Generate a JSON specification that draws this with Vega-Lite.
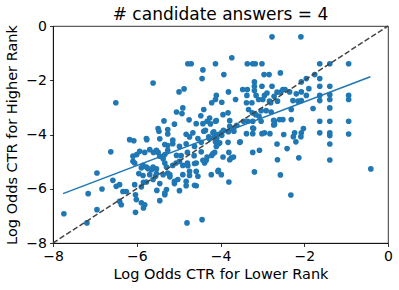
{
  "$schema": "https://vega.github.io/schema/vega-lite/v6.json",
  "width": 335,
  "height": 217,
  "autosize": {"type": "none"},
  "padding": {"left": 53, "top": 26, "right": 11, "bottom": 47},
  "background": "white",
  "view": {"stroke": "black", "strokeWidth": 0.8},
  "title": {"text": "# candidate answers = 4", "fontSize": 17, "font": "DejaVu Sans", "fontWeight": "normal", "color": "black", "offset": -5, "anchor": "middle", "frame": "group"},
  "config": {
    "axis": {"grid": false, "domainColor": "black", "domainWidth": 0.8, "tickColor": "black", "tickWidth": 0.8, "tickSize": 3.5, "labelFont": "DejaVu Sans", "labelFontSize": 14, "labelColor": "black", "labelPadding": 3, "titleFont": "DejaVu Sans", "titleFontSize": 14.5, "titleFontWeight": "normal", "titleColor": "black", "labelFlush": false, "labelOverlap": false}
  },
  "datasets": {
    "pts": [
      {"x":-7.74,"y":-6.92},{"x":-7.19,"y":-7.26},{"x":-7.16,"y":-6.18},{"x":-6.95,"y":-5.42},{"x":-6.95,"y":-6.77},{"x":-6.83,"y":-6.01},{"x":-6.62,"y":-4.64},{"x":-6.57,"y":-5.69},{"x":-6.49,"y":-5.91},{"x":-6.41,"y":-5.85},{"x":-6.50,"y":-2.83},{"x":-6.41,"y":-6.46},{"x":-6.37,"y":-6.59},{"x":-6.33,"y":-6.10},{"x":-6.25,"y":-6.10},{"x":-6.17,"y":-4.19},{"x":-6.07,"y":-4.23},{"x":-6.09,"y":-4.80},{"x":-6.00,"y":-4.74},{"x":-5.93,"y":-4.62},{"x":-5.81,"y":-4.66},{"x":-5.69,"y":-4.56},{"x":-5.60,"y":-4.66},{"x":-5.49,"y":-4.66},{"x":-6.09,"y":-4.99},{"x":-6.05,"y":-5.05},{"x":-5.89,"y":-5.23},{"x":-5.77,"y":-5.20},{"x":-5.65,"y":-5.30},{"x":-5.53,"y":-5.27},{"x":-5.95,"y":-5.44},{"x":-5.69,"y":-5.48},{"x":-5.55,"y":-5.54},{"x":-5.61,"y":-5.66},{"x":-5.84,"y":-5.76},{"x":-6.05,"y":-5.85},{"x":-6.03,"y":-6.22},{"x":-6.01,"y":-6.40},{"x":-5.89,"y":-6.52},{"x":-5.81,"y":-6.59},{"x":-5.84,"y":-6.71},{"x":-6.03,"y":-6.87},{"x":-5.45,"y":-6.44},{"x":-5.52,"y":-6.06},{"x":-5.76,"y":-4.19},{"x":-5.61,"y":-2.10},{"x":-5.47,"y":-3.88},{"x":-5.35,"y":-3.50},{"x":-5.26,"y":-3.82},{"x":-5.45,"y":-4.16},{"x":-5.33,"y":-4.37},{"x":-5.26,"y":-4.41},{"x":-5.45,"y":-4.80},{"x":-5.33,"y":-4.74},{"x":-5.33,"y":-5.05},{"x":-5.26,"y":-5.42},{"x":-5.37,"y":-5.48},{"x":-5.29,"y":-6.03},{"x":-5.33,"y":-6.16},{"x":-5.77,"y":-4.15},{"x":-5.85,"y":-5.14},{"x":-5.73,"y":-5.26},{"x":-5.89,"y":-5.93},{"x":-5.77,"y":-5.75},{"x":-5.45,"y":-5.81},{"x":-5.85,"y":-5.51},{"x":-5.53,"y":-5.44},{"x":-5.49,"y":-3.78},{"x":-5.53,"y":-4.58},{"x":-5.37,"y":-4.89},{"x":-5.61,"y":-5.20},{"x":-5.29,"y":-5.20},
      {"x":-5.26,"y":-3.98},{"x":-5.14,"y":-4.21},{"x":-5.10,"y":-3.62},{"x":-5.05,"y":-3.17},{"x":-4.92,"y":-3.23},{"x":-4.90,"y":-3.02},{"x":-4.99,"y":-2.43},{"x":-4.87,"y":-2.32},{"x":-4.78,"y":-1.39},{"x":-4.70,"y":-1.39},{"x":-4.44,"y":-1.94},{"x":-4.42,"y":-1.62},{"x":-4.75,"y":-3.46},{"x":-4.47,"y":-3.31},{"x":-4.58,"y":-3.60},{"x":-4.42,"y":-3.60},{"x":-4.26,"y":-3.39},{"x":-4.24,"y":-3.61},{"x":-4.10,"y":-3.49},{"x":-3.78,"y":-3.49},{"x":-3.78,"y":-3.70},{"x":-3.94,"y":-3.27},{"x":-3.82,"y":-3.20},{"x":-4.40,"y":-3.88},{"x":-4.66,"y":-3.94},{"x":-4.18,"y":-3.94},{"x":-3.98,"y":-3.94},{"x":-4.82,"y":-3.99},{"x":-4.74,"y":-4.09},{"x":-4.54,"y":-4.15},{"x":-4.10,"y":-2.56},{"x":-4.12,"y":-2.71},{"x":-4.21,"y":-2.83},{"x":-3.97,"y":-2.81},{"x":-3.92,"y":-1.79},{"x":-3.73,"y":-1.17},{"x":-4.12,"y":-1.39},{"x":-3.64,"y":-2.71},{"x":-3.47,"y":-2.34},{"x":-3.36,"y":-1.39},{"x":-3.23,"y":-1.39},{"x":-3.17,"y":-1.39},{"x":-3.01,"y":-1.39},{"x":-2.96,"y":-1.79},{"x":-2.84,"y":-1.79},{"x":-3.19,"y":-2.06},{"x":-3.19,"y":-2.22},{"x":-3.01,"y":-2.22},{"x":-2.77,"y":-2.22},{"x":-3.19,"y":-2.38},{"x":-2.51,"y":-2.34},{"x":-3.37,"y":-2.56},{"x":-3.15,"y":-2.56},{"x":-2.95,"y":-2.56},{"x":-3.38,"y":-2.83},{"x":-3.25,"y":-2.83},{"x":-2.99,"y":-2.71},{"x":-2.83,"y":-2.77},{"x":-3.03,"y":-3.12},{"x":-2.91,"y":-3.12},{"x":-2.79,"y":-3.17},{"x":-3.35,"y":-3.51},{"x":-3.23,"y":-3.51},{"x":-3.03,"y":-3.51},{"x":-2.71,"y":-3.51},{"x":-2.71,"y":-3.63},{"x":-2.51,"y":-3.45},{"x":-3.23,"y":-3.76},{"x":-2.95,"y":-3.94},{"x":-3.38,"y":-3.97},{"x":-3.23,"y":-3.97},{"x":-2.82,"y":-3.97},{"x":-3.68,"y":-3.88},{"x":-3.82,"y":-3.88},{"x":-4.06,"y":-4.00},{"x":-3.54,"y":-4.29},{"x":-3.82,"y":-4.29},{"x":-4.02,"y":-4.31},{"x":-4.10,"y":-4.44},{"x":-4.14,"y":-4.09},{"x":-4.26,"y":-4.16},{"x":-4.46,"y":-4.29},{"x":-4.62,"y":-4.44},{"x":-4.82,"y":-4.34},{"x":-4.98,"y":-4.44},{"x":-5.14,"y":-4.34},{"x":-5.26,"y":-4.58},{"x":-4.79,"y":-4.66},{"x":-4.63,"y":-4.78},{"x":-4.94,"y":-4.78},{"x":-5.06,"y":-5.05},{"x":-4.98,"y":-4.99},{"x":-4.79,"y":-5.05},{"x":-4.78,"y":-5.15},{"x":-4.58,"y":-5.05},{"x":-4.38,"y":-5.05},{"x":-4.34,"y":-4.95},{"x":-4.18,"y":-4.70},{"x":-4.14,"y":-4.66},{"x":-3.94,"y":-4.83},{"x":-3.80,"y":-4.66},{"x":-3.74,"y":-4.86},{"x":-3.78,"y":-4.93},{"x":-3.23,"y":-4.66},{"x":-3.07,"y":-4.58},{"x":-2.64,"y":-4.93},{"x":-5.21,"y":-5.48},{"x":-4.74,"y":-5.36},{"x":-4.58,"y":-5.36},{"x":-4.54,"y":-5.54},{"x":-4.90,"y":-5.48},{"x":-4.22,"y":-5.48},{"x":-4.06,"y":-5.36},{"x":-3.98,"y":-5.48},{"x":-3.19,"y":-5.38},{"x":-5.10,"y":-5.73},{"x":-5.02,"y":-5.66},{"x":-4.82,"y":-5.73},{"x":-4.82,"y":-5.89},{"x":-4.58,"y":-5.89},{"x":-3.80,"y":-5.75},{"x":-4.98,"y":-6.07},{"x":-5.33,"y":-6.22},{"x":-4.80,"y":-7.26},{"x":-4.44,"y":-7.14},{"x":-5.05,"y":-4.77},{"x":-4.46,"y":-4.64},{"x":-4.42,"y":-4.95},{"x":-5.14,"y":-5.14},{"x":-4.90,"y":-5.14},{"x":-4.62,"y":-5.07},{"x":-5.21,"y":-5.56},{"x":-4.74,"y":-5.51},{"x":-4.62,"y":-5.87},{"x":-5.10,"y":-5.81},
      {"x":-4.36,"y":-3.85},{"x":-4.16,"y":-3.90},{"x":-4.28,"y":-4.09},{"x":-4.09,"y":-4.15},{"x":-3.97,"y":-4.03},{"x":-3.93,"y":-3.85},{"x":-3.81,"y":-3.90},{"x":-3.69,"y":-3.78},{"x":-3.61,"y":-3.66},{"x":-3.21,"y":-3.78},{"x":-3.01,"y":-3.97},{"x":-3.53,"y":-4.27},{"x":-4.05,"y":-4.34},{"x":-4.12,"y":-4.27},{"x":-4.32,"y":-4.83},{"x":-4.21,"y":-4.77},{"x":-3.69,"y":-4.83},{"x":-4.05,"y":-5.32},
      {"x":-3.33,"y":-3.08},{"x":-3.24,"y":-3.20},{"x":-3.16,"y":-3.27},{"x":-3.08,"y":-3.33},{"x":-3.45,"y":-3.51},{"x":-4.12,"y":-3.51},{"x":-4.32,"y":-3.51},{"x":-4.40,"y":-3.08},{"x":-3.36,"y":-2.34},{"x":-2.89,"y":-2.47},{"x":-3.09,"y":-2.71},{"x":-3.81,"y":-2.43},
      {"x":-2.77,"y":-0.40},{"x":-2.08,"y":-0.40},{"x":-1.63,"y":-1.39},{"x":-1.39,"y":-1.39},{"x":-0.94,"y":-1.39},{"x":-2.57,"y":-1.73},{"x":-1.75,"y":-1.79},{"x":-1.63,"y":-1.94},{"x":-2.07,"y":-2.06},{"x":-1.95,"y":-1.94},{"x":-1.63,"y":-2.22},{"x":-1.39,"y":-2.22},{"x":-1.89,"y":-2.31},{"x":-2.46,"y":-2.34},{"x":-2.35,"y":-2.43},{"x":-2.19,"y":-2.50},{"x":-2.07,"y":-2.43},{"x":-1.95,"y":-2.56},{"x":-1.63,"y":-2.56},{"x":-1.39,"y":-2.53},{"x":-0.94,"y":-2.56},{"x":-2.27,"y":-2.75},{"x":-2.15,"y":-2.77},{"x":-2.07,"y":-2.75},{"x":-1.63,"y":-2.75},{"x":-1.39,"y":-2.71},{"x":-0.94,"y":-2.71},{"x":-1.79,"y":-3.04},{"x":-1.39,"y":-3.02},{"x":-2.31,"y":-3.08},{"x":-2.59,"y":-3.45},{"x":-2.31,"y":-3.45},{"x":-1.63,"y":-3.51},{"x":-1.39,"y":-3.51},{"x":-0.94,"y":-3.51},{"x":-2.02,"y":-3.78},{"x":-1.63,"y":-3.94},{"x":-1.39,"y":-3.94},{"x":-2.23,"y":-3.94},{"x":-2.07,"y":-3.94},{"x":-2.49,"y":-4.00},{"x":-2.26,"y":-4.08},{"x":-2.08,"y":-4.08},{"x":-2.20,"y":-4.27},{"x":-0.94,"y":-3.98},{"x":-1.39,"y":-4.04},{"x":-2.41,"y":-4.52},{"x":-1.39,"y":-4.35},{"x":-2.13,"y":-4.86},{"x":-1.39,"y":-4.94},{"x":-0.41,"y":-5.27},{"x":-2.57,"y":-5.49},{"x":-2.32,"y":-6.23},{"x":-2.73,"y":-3.65},{"x":-2.65,"y":-4.35},{"x":-2.65,"y":-2.44},{"x":-2.56,"y":-2.44},{"x":-2.72,"y":-2.59},{"x":-2.64,"y":-2.77},{"x":-2.80,"y":-2.83},{"x":-2.73,"y":-3.48}
    ],
    "fit": [{"x": -7.76, "y": -6.18}, {"x": -0.42, "y": -1.87}],
    "diag": [{"x": -8, "y": -8}, {"x": 0, "y": 0}]
  },
  "encoding": {
    "x": {"field": "x", "type": "quantitative", "scale": {"domain": [-8, 0], "nice": false, "zero": false}, "axis": {"values": [-8, -6, -4, -2, 0], "title": "Log Odds CTR for Lower Rank", "titlePadding": 4}},
    "y": {"field": "y", "type": "quantitative", "scale": {"domain": [-8, 0], "nice": false, "zero": false}, "axis": {"values": [-8, -6, -4, -2, 0], "title": "Log Odds CTR for Higher Rank", "titlePadding": 6}}
  },
  "layer": [
    {"data": {"name": "pts"}, "mark": {"type": "circle", "size": 32, "color": "#1f77b4", "opacity": 1}},
    {"data": {"name": "fit"}, "mark": {"type": "line", "color": "#1f77b4", "strokeWidth": 1.5}},
    {"data": {"name": "diag"}, "mark": {"type": "line", "color": "#444444", "strokeWidth": 1.5, "strokeDash": [5.5, 2.4]}}
  ]
}
